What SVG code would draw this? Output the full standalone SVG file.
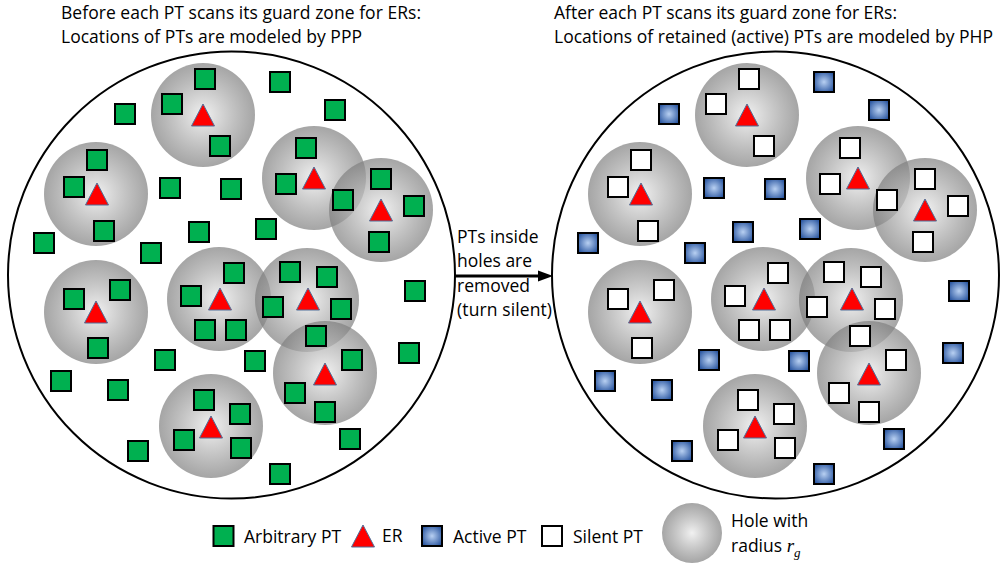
<svg xmlns="http://www.w3.org/2000/svg" xmlns:xlink="http://www.w3.org/1999/xlink" width="1001" height="565" viewBox="0 0 1001 565">
<defs>
<radialGradient id="holeGrad" cx="50%" cy="50%" r="50%">
<stop offset="0" stop-color="#eeeeee" stop-opacity="0.8"/>
<stop offset="1" stop-color="#7f7f7f" stop-opacity="0.7"/>
</radialGradient>
<radialGradient id="blueGrad" cx="50%" cy="50%" r="60%">
<stop offset="0" stop-color="#b8d0f2"/>
<stop offset="1" stop-color="#2a56a0"/>
</radialGradient>
<path id="tri" d="M0,0 L11.5,22 L-11.5,22 Z"/>
</defs>
<style>
.frame{fill:#fff;stroke:#000;stroke-width:2}
.hole{fill:url(#holeGrad)}
.g{fill:#00b050;stroke:#000;stroke-width:2}
.w{fill:#fff;stroke:#000;stroke-width:2}
.b{fill:url(#blueGrad);stroke:#000;stroke-width:2}
.er{fill:#ff0000;stroke:#4f6f99;stroke-width:1}
text{font-family:"Open Sans","Noto Sans","Liberation Sans",sans-serif;font-size:17.5px;fill:#000}
.math{font-family:"Liberation Serif","DejaVu Serif",serif;font-style:italic}
</style>

<g id="titles">
<text id="title-left-1" x="61" y="19" textLength="360" lengthAdjust="spacing">Before each PT scans its guard zone for ERs:</text>
<text id="title-left-2" x="61" y="43" textLength="301" lengthAdjust="spacing">Locations of PTs are modeled by PPP</text>
<text id="title-right-1" x="554" y="19" textLength="343" lengthAdjust="spacing">After each PT scans its guard zone for ERs:</text>
<text id="title-right-2" x="554" y="43" textLength="439" lengthAdjust="spacing">Locations of retained (active) PTs are modeled by PHP</text>
</g>

<!-- LEFT PANEL -->
<g id="left-region"><circle class="frame" cx="231.5" cy="275" r="223.5"/></g>
<g id="left-holes">
<g id="hole-L1"><circle class="hole" cx="203" cy="115" r="52"/></g>
<g id="hole-L2"><circle class="hole" cx="96" cy="194" r="52"/></g>
<g id="hole-L3"><circle class="hole" cx="314" cy="178" r="52"/></g>
<g id="hole-L4"><circle class="hole" cx="381" cy="210" r="52"/></g>
<g id="hole-L5"><circle class="hole" cx="96" cy="312" r="52"/></g>
<g id="hole-L6"><circle class="hole" cx="219" cy="299" r="52"/></g>
<g id="hole-L7"><circle class="hole" cx="307" cy="300" r="52"/></g>
<g id="hole-L8"><circle class="hole" cx="325" cy="373" r="52"/></g>
<g id="hole-L9"><circle class="hole" cx="211" cy="426" r="52"/></g>
</g>
<g id="left-pts">
<g id="pt-L1"><rect class="g" x="195" y="69" width="20" height="20"/></g>
<g id="pt-L2"><rect class="g" x="270" y="72" width="20" height="20"/></g>
<g id="pt-L3"><rect class="g" x="115" y="104" width="20" height="20"/></g>
<g id="pt-L4"><rect class="g" x="162" y="94" width="20" height="20"/></g>
<g id="pt-L5"><rect class="g" x="325" y="100" width="20" height="20"/></g>
<g id="pt-L6"><rect class="g" x="210" y="136" width="20" height="20"/></g>
<g id="pt-L7"><rect class="g" x="296" y="138" width="20" height="20"/></g>
<g id="pt-L8"><rect class="g" x="87" y="150" width="20" height="20"/></g>
<g id="pt-L9"><rect class="g" x="64" y="177" width="20" height="20"/></g>
<g id="pt-L10"><rect class="g" x="160" y="178" width="20" height="20"/></g>
<g id="pt-L11"><rect class="g" x="221" y="179" width="20" height="20"/></g>
<g id="pt-L12"><rect class="g" x="276" y="174" width="20" height="20"/></g>
<g id="pt-L13"><rect class="g" x="371" y="169" width="20" height="20"/></g>
<g id="pt-L14"><rect class="g" x="333" y="190" width="20" height="20"/></g>
<g id="pt-L15"><rect class="g" x="404" y="196" width="20" height="20"/></g>
<g id="pt-L16"><rect class="g" x="94" y="221" width="20" height="20"/></g>
<g id="pt-L17"><rect class="g" x="34" y="233" width="20" height="20"/></g>
<g id="pt-L18"><rect class="g" x="189" y="222" width="20" height="20"/></g>
<g id="pt-L19"><rect class="g" x="256" y="219" width="20" height="20"/></g>
<g id="pt-L20"><rect class="g" x="369" y="232" width="20" height="20"/></g>
<g id="pt-L21"><rect class="g" x="141" y="243" width="20" height="20"/></g>
<g id="pt-L22"><rect class="g" x="224" y="263" width="20" height="20"/></g>
<g id="pt-L23"><rect class="g" x="280" y="262" width="20" height="20"/></g>
<g id="pt-L24"><rect class="g" x="317" y="267" width="20" height="20"/></g>
<g id="pt-L25"><rect class="g" x="110" y="280" width="20" height="20"/></g>
<g id="pt-L26"><rect class="g" x="405" y="281" width="20" height="20"/></g>
<g id="pt-L27"><rect class="g" x="64" y="289" width="20" height="20"/></g>
<g id="pt-L28"><rect class="g" x="88" y="338" width="20" height="20"/></g>
<g id="pt-L29"><rect class="g" x="181" y="286" width="20" height="20"/></g>
<g id="pt-L30"><rect class="g" x="195" y="320" width="20" height="20"/></g>
<g id="pt-L31"><rect class="g" x="226" y="320" width="20" height="20"/></g>
<g id="pt-L32"><rect class="g" x="263" y="297" width="20" height="20"/></g>
<g id="pt-L33"><rect class="g" x="331" y="299" width="20" height="20"/></g>
<g id="pt-L34"><rect class="g" x="306" y="326" width="20" height="20"/></g>
<g id="pt-L35"><rect class="g" x="399" y="343" width="20" height="20"/></g>
<g id="pt-L36"><rect class="g" x="155" y="350" width="20" height="20"/></g>
<g id="pt-L37"><rect class="g" x="245" y="351" width="20" height="20"/></g>
<g id="pt-L38"><rect class="g" x="342" y="350" width="20" height="20"/></g>
<g id="pt-L39"><rect class="g" x="51" y="371" width="20" height="20"/></g>
<g id="pt-L40"><rect class="g" x="108" y="380" width="20" height="20"/></g>
<g id="pt-L41"><rect class="g" x="285" y="383" width="20" height="20"/></g>
<g id="pt-L42"><rect class="g" x="315" y="402" width="20" height="20"/></g>
<g id="pt-L43"><rect class="g" x="194" y="390" width="20" height="20"/></g>
<g id="pt-L44"><rect class="g" x="230" y="404" width="20" height="20"/></g>
<g id="pt-L45"><rect class="g" x="174" y="430" width="20" height="20"/></g>
<g id="pt-L46"><rect class="g" x="231" y="438" width="20" height="20"/></g>
<g id="pt-L47"><rect class="g" x="128" y="441" width="20" height="20"/></g>
<g id="pt-L48"><rect class="g" x="340" y="429" width="20" height="20"/></g>
<g id="pt-L49"><rect class="g" x="270" y="464" width="20" height="20"/></g>
</g>
<g id="left-ers">
<g id="er-L1"><use href="#tri" class="er" x="203" y="104"/></g>
<g id="er-L2"><use href="#tri" class="er" x="97" y="183"/></g>
<g id="er-L3"><use href="#tri" class="er" x="314" y="167"/></g>
<g id="er-L4"><use href="#tri" class="er" x="381" y="199"/></g>
<g id="er-L5"><use href="#tri" class="er" x="96" y="301"/></g>
<g id="er-L6"><use href="#tri" class="er" x="220" y="288"/></g>
<g id="er-L7"><use href="#tri" class="er" x="308" y="288"/></g>
<g id="er-L8"><use href="#tri" class="er" x="325" y="363"/></g>
<g id="er-L9"><use href="#tri" class="er" x="211" y="416"/></g>
</g>

<!-- RIGHT PANEL (shifted by 544) -->
<g id="right-region"><circle class="frame" cx="775.5" cy="275" r="223.5"/></g>
<g id="right-holes">
<g id="hole-R1"><circle class="hole" cx="747" cy="115" r="52"/></g>
<g id="hole-R2"><circle class="hole" cx="640" cy="194" r="52"/></g>
<g id="hole-R3"><circle class="hole" cx="858" cy="178" r="52"/></g>
<g id="hole-R4"><circle class="hole" cx="925" cy="210" r="52"/></g>
<g id="hole-R5"><circle class="hole" cx="640" cy="312" r="52"/></g>
<g id="hole-R6"><circle class="hole" cx="763" cy="299" r="52"/></g>
<g id="hole-R7"><circle class="hole" cx="851" cy="300" r="52"/></g>
<g id="hole-R8"><circle class="hole" cx="869" cy="373" r="52"/></g>
<g id="hole-R9"><circle class="hole" cx="755" cy="426" r="52"/></g>
</g>
<g id="right-pts">
<g id="pt-R1"><rect class="w" x="739" y="69" width="20" height="20"/></g>
<g id="pt-R2"><rect class="b" x="814" y="72" width="20" height="20"/></g>
<g id="pt-R3"><rect class="b" x="659" y="104" width="20" height="20"/></g>
<g id="pt-R4"><rect class="w" x="706" y="94" width="20" height="20"/></g>
<g id="pt-R5"><rect class="b" x="869" y="100" width="20" height="20"/></g>
<g id="pt-R6"><rect class="w" x="754" y="136" width="20" height="20"/></g>
<g id="pt-R7"><rect class="w" x="840" y="138" width="20" height="20"/></g>
<g id="pt-R8"><rect class="w" x="631" y="150" width="20" height="20"/></g>
<g id="pt-R9"><rect class="w" x="608" y="177" width="20" height="20"/></g>
<g id="pt-R10"><rect class="b" x="704" y="178" width="20" height="20"/></g>
<g id="pt-R11"><rect class="b" x="765" y="179" width="20" height="20"/></g>
<g id="pt-R12"><rect class="w" x="820" y="174" width="20" height="20"/></g>
<g id="pt-R13"><rect class="w" x="915" y="169" width="20" height="20"/></g>
<g id="pt-R14"><rect class="w" x="877" y="190" width="20" height="20"/></g>
<g id="pt-R15"><rect class="w" x="948" y="196" width="20" height="20"/></g>
<g id="pt-R16"><rect class="w" x="638" y="221" width="20" height="20"/></g>
<g id="pt-R17"><rect class="b" x="578" y="233" width="20" height="20"/></g>
<g id="pt-R18"><rect class="b" x="733" y="222" width="20" height="20"/></g>
<g id="pt-R19"><rect class="b" x="800" y="219" width="20" height="20"/></g>
<g id="pt-R20"><rect class="w" x="913" y="232" width="20" height="20"/></g>
<g id="pt-R21"><rect class="b" x="685" y="243" width="20" height="20"/></g>
<g id="pt-R22"><rect class="w" x="768" y="263" width="20" height="20"/></g>
<g id="pt-R23"><rect class="w" x="824" y="262" width="20" height="20"/></g>
<g id="pt-R24"><rect class="w" x="861" y="267" width="20" height="20"/></g>
<g id="pt-R25"><rect class="w" x="654" y="280" width="20" height="20"/></g>
<g id="pt-R26"><rect class="b" x="949" y="281" width="20" height="20"/></g>
<g id="pt-R27"><rect class="w" x="608" y="289" width="20" height="20"/></g>
<g id="pt-R28"><rect class="w" x="632" y="338" width="20" height="20"/></g>
<g id="pt-R29"><rect class="w" x="725" y="286" width="20" height="20"/></g>
<g id="pt-R30"><rect class="w" x="739" y="320" width="20" height="20"/></g>
<g id="pt-R31"><rect class="w" x="770" y="320" width="20" height="20"/></g>
<g id="pt-R32"><rect class="w" x="807" y="297" width="20" height="20"/></g>
<g id="pt-R33"><rect class="w" x="875" y="299" width="20" height="20"/></g>
<g id="pt-R34"><rect class="w" x="850" y="326" width="20" height="20"/></g>
<g id="pt-R35"><rect class="b" x="943" y="343" width="20" height="20"/></g>
<g id="pt-R36"><rect class="b" x="699" y="350" width="20" height="20"/></g>
<g id="pt-R37"><rect class="b" x="789" y="351" width="20" height="20"/></g>
<g id="pt-R38"><rect class="w" x="886" y="350" width="20" height="20"/></g>
<g id="pt-R39"><rect class="b" x="595" y="371" width="20" height="20"/></g>
<g id="pt-R40"><rect class="b" x="652" y="380" width="20" height="20"/></g>
<g id="pt-R41"><rect class="w" x="829" y="383" width="20" height="20"/></g>
<g id="pt-R42"><rect class="w" x="859" y="402" width="20" height="20"/></g>
<g id="pt-R43"><rect class="w" x="738" y="390" width="20" height="20"/></g>
<g id="pt-R44"><rect class="w" x="774" y="404" width="20" height="20"/></g>
<g id="pt-R45"><rect class="w" x="718" y="430" width="20" height="20"/></g>
<g id="pt-R46"><rect class="w" x="775" y="438" width="20" height="20"/></g>
<g id="pt-R47"><rect class="b" x="672" y="441" width="20" height="20"/></g>
<g id="pt-R48"><rect class="b" x="884" y="429" width="20" height="20"/></g>
<g id="pt-R49"><rect class="b" x="814" y="464" width="20" height="20"/></g>
</g>
<g id="right-ers">
<g id="er-R1"><use href="#tri" class="er" x="747" y="104"/></g>
<g id="er-R2"><use href="#tri" class="er" x="641" y="183"/></g>
<g id="er-R3"><use href="#tri" class="er" x="858" y="167"/></g>
<g id="er-R4"><use href="#tri" class="er" x="925" y="199"/></g>
<g id="er-R5"><use href="#tri" class="er" x="640" y="301"/></g>
<g id="er-R6"><use href="#tri" class="er" x="764" y="288"/></g>
<g id="er-R7"><use href="#tri" class="er" x="852" y="288"/></g>
<g id="er-R8"><use href="#tri" class="er" x="869" y="363"/></g>
<g id="er-R9"><use href="#tri" class="er" x="755" y="416"/></g>
</g>

<g id="connectors">
<line x1="455" y1="276" x2="540" y2="276" stroke="#000" stroke-width="3"/>
<polygon points="538,270.5 553,276 538,281.5" fill="#000"/>
</g>
<g id="transition-label">
<text x="457" y="243">PTs inside</text>
<text x="457" y="267">holes are</text>
<text x="457" y="292">removed</text>
<text x="457" y="316" textLength="95" lengthAdjust="spacing">(turn silent)</text>
</g>

<g id="legend">
<g id="legend-arbitrary"><rect class="g" x="213.5" y="526" width="20" height="20"/><text x="244" y="543">Arbitrary PT</text></g>
<g id="legend-er"><use href="#tri" class="er" x="363" y="525"/><text x="382" y="542">ER</text></g>
<g id="legend-active"><rect class="b" x="422" y="526" width="20" height="20"/><text x="453" y="543">Active PT</text></g>
<g id="legend-silent"><rect class="w" x="542" y="526" width="20" height="20"/><text x="573" y="543">Silent PT</text></g>
<g id="legend-hole"><circle class="hole" cx="692" cy="533" r="30"/><text x="731" y="527">Hole with</text><text x="731" y="552">radius <tspan class="math" font-size="19">r</tspan><tspan class="math" font-size="13" dy="5">g</tspan></text></g>
</g>
</svg>
